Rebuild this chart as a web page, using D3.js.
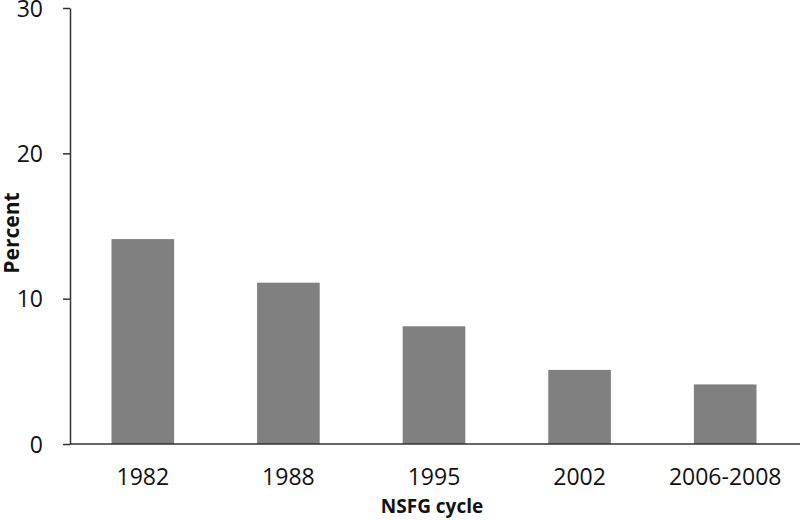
<!DOCTYPE html>
<html>
<head>
<meta charset="utf-8">
<script src="https://cdn.jsdelivr.net/npm/d3@7"></script>
<style>
  body { margin: 0; background: #fff; }
  text { font-family: "Open Sans", sans-serif; fill: #111; }
</style>
</head>
<body>
<svg id="viz"></svg>
<script>
var width = 800;
var height = 520;

// values
var cycles = ["1982", "1988", "1995", "2002", "2006-2008"];
var percents = [14.1, 11.1, 8.1, 5.1, 4.1];
var yTicks = [0, 10, 20, 30];

var margin = {top: 8, right: 2, bottom: 76, left: 70};

var svg = d3.select("#viz").attr("width", width).attr("height", height);

var x = d3.scaleBand()
    .domain(cycles)
    .range([margin.left, width - margin.right])
    .paddingInner(0.57)
    .paddingOuter(0.285);

var y = d3.scaleLinear()
    .domain([0, 30])
    .range([height - margin.bottom, margin.top]);

// bars
svg.append("g")
    .selectAll("rect")
    .data(cycles)
    .enter().append("rect")
    .attr("x", function (d) { return x(d); })
    .attr("width", x.bandwidth())
    .attr("y", function (d, i) { return y(percents[i]); })
    .attr("height", function (d, i) { return y(0) - y(percents[i]); })
    .attr("fill", "#808080");

// y axis
var yAxis = svg.append("g")
    .attr("transform", "translate(" + margin.left + ",0)")
    .call(d3.axisLeft(y).tickValues(yTicks).tickSize(7).tickPadding(20).tickSizeOuter(0));
yAxis.selectAll("text").style("font-size", "23px").attr("dy", "0.36em");
yAxis.selectAll("line, path").attr("stroke", "#333").attr("stroke-width", 1.5);

// x axis
var xAxis = svg.append("g")
    .attr("transform", "translate(0," + y(0) + ")")
    .call(d3.axisBottom(x).tickSize(0).tickPadding(25));
xAxis.select(".domain").attr("d", "M" + margin.left + ",0H" + width).attr("stroke", "#333").attr("stroke-width", 1.5);
xAxis.selectAll("text").style("font-size", "23px");

// axis titles
svg.append("text")
    .attr("transform", "translate(19," + (y(15) + 7) + ") rotate(-90)")
    .attr("text-anchor", "middle")
    .style("font-size", "21px")
    .style("font-weight", "bold")
    .text("Percent");

svg.append("text")
    .attr("x", 432)
    .attr("y", 513)
    .attr("text-anchor", "middle")
    .style("font-size", "19px")
    .style("font-weight", "bold")
    .text("NSFG cycle");
</script>
</body>
</html>
